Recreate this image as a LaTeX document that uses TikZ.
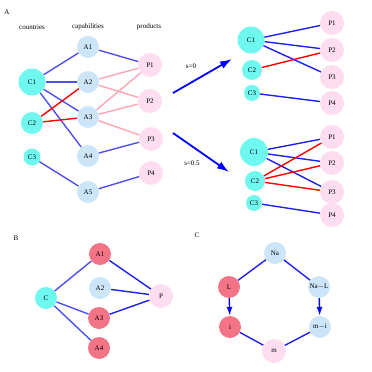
\documentclass[tikz,border=0pt]{standalone}
\usepackage{fontspec}
\setmainfont{Liberation Serif}
\usetikzlibrary{arrows.meta}
\definecolor{ctrycol}{HTML}{6FF8F0}
\definecolor{capcol}{HTML}{CCE5F8}
\definecolor{prodcol}{HTML}{FDDDEF}
\definecolor{hotcol}{HTML}{F37387}
\definecolor{linkblue}{HTML}{5050EE}
\definecolor{deepblue}{HTML}{2020EE}
\definecolor{linkpink}{HTML}{FFA5B5}

\begin{document}
\begin{tikzpicture}[x=1pt,y=-1pt,
  every node/.style={align=center,font=\fontsize{7}{8}\selectfont},
  ball/.style={circle,inner sep=0pt,minimum size=#1},
  ctry/.style={ball=#1,fill=ctrycol},
  capab/.style={ball=22pt,fill=capcol},
  prodball/.style={ball=24pt,fill=prodcol},
  hotball/.style={ball=22pt,fill=hotcol},
  blu/.style={line width=1.4pt,color=linkblue},
  dblu/.style={line width=1.4pt,color=deepblue},
  rd/.style={line width=1.4pt,color=red},
  pk/.style={line width=1.4pt,color=linkpink},
  arrow/.style={-{Latex[length=12pt,width=8pt]},line width=1.8pt,color=blue}]
  \useasboundingbox (0,0) rectangle (372,372);
  % panel A, left network
  \node (labA) at (7,12) {A};
  \node (hdc) at (32,27) {countries};
  \node (hda) at (88,27) {capabilities};
  \node (hdp) at (149,27) {products};
  \node[ctry=27pt] (c1) at (32,82) {C1};
  \node[ctry=22pt] (c2) at (32,123) {C2};
  \node[ctry=17pt] (c3) at (32,157) {C3};
  \node[capab] (a1) at (88,47) {A1};
  \node[capab] (a2) at (88,82) {A2};
  \node[capab] (a3) at (88,117) {A3};
  \node[capab] (a4) at (88,156) {A4};
  \node[capab] (a5) at (88,192) {A5};
  \node[prodball] (p1) at (150,65) {P1};
  \node[prodball] (p2) at (150,101) {P2};
  \node[prodball] (p3) at (151,139) {P3};
  \node[prodball] (p4) at (151,173) {P4};
  \draw[blu] (c1)--(a1); \draw[blu] (c1)--(a2);
  \draw[blu] (c1)--(a3); \draw[blu] (c1)--(a4);
  \draw[rd] (c2)--(a2); \draw[rd] (c2)--(a3);
  \draw[blu] (c3)--(a5);
  \draw[blu] (a1)--(p1); \draw[pk] (a2)--(p1); \draw[pk] (a2)--(p2);
  \draw[pk] (a3)--(p1); \draw[pk] (a3)--(p2); \draw[pk] (a3)--(p3);
  \draw[blu] (a4)--(p3); \draw[blu] (a5)--(p4);
  % the two arrows
  \coordinate (up0) at (173,93); \coordinate (up1) at (232,59);
  \coordinate (dn0) at (173,133); \coordinate (dn1) at (229,172);
  \draw[arrow] (up0)--(up1);
  \draw[arrow] (dn0)--(dn1);
  \node (szero) at (191,66) {s=0};
  \node (shalf) at (192,163) {s=0.5};
  % s=0
  \node[ctry=27pt] (tc1) at (251,40) {C1};
  \node[ctry=20pt] (tc2) at (252,70) {C2};
  \node[ctry=16pt] (tc3) at (252,93) {C3};
  \node[prodball] (tp1) at (332,23) {P1};
  \node[prodball] (tp2) at (332,50) {P2};
  \node[prodball] (tp3) at (332,77) {P3};
  \node[prodball] (tp4) at (332,103) {P4};
  \draw[dblu] (tc1)--(tp1); \draw[dblu] (tc1)--(tp2);
  \draw[dblu] (tc1)--(tp3); \draw[rd] (tc2)--(tp2);
  \draw[dblu] (tc3)--(tp4);
  % s=0.5
  \node[ctry=28pt] (bc1) at (254,152) {C1};
  \node[ctry=20pt] (bc2) at (255,181) {C2};
  \node[ctry=16pt] (bc3) at (254,203) {C3};
  \node[prodball] (bp1) at (332,137) {P1};
  \node[prodball] (bp2) at (332,163) {P2};
  \node[prodball] (bp3) at (332,192) {P3};
  \node[prodball] (bp4) at (332,215) {P4};
  \draw[dblu] (bc1)--(bp1); \draw[dblu] (bc1)--(bp2);
  \draw[dblu] (bc1)--(bp3);
  \draw[rd] (bc2)--(bp1); \draw[rd] (bc2)--(bp2); \draw[rd] (bc2)--(bp3);
  \draw[dblu] (bc3)--(bp4);
  % panel B
  \node (labB) at (16,238) {B};
  \node[ctry=22pt] (bc) at (46,298) {C};
  \node[hotball] (ba1) at (100,254) {A1};
  \node[capab] (ba2) at (100,288) {A2};
  \node[hotball] (ba3) at (99,318) {A3};
  \node[hotball] (ba4) at (99,348) {A4};
  \node[prodball] (bp) at (161,296) {P};
  \draw[blu] (bc)--(ba1); \draw[blu] (bc)--(ba3); \draw[blu] (bc)--(ba4);
  \draw[dblu] (ba1)--(bp); \draw[dblu] (ba2)--(bp); \draw[dblu] (ba3)--(bp);
  % panel C
  \node (labC) at (197,235) {C};
  \node[capab] (na) at (275,253) {Na};
  \node[hotball] (ll) at (229,287) {L};
  \node[capab] (nal) at (319,287) {Na$-$L};
  \node[hotball] (ii) at (230,327) {i};
  \node[capab] (mi) at (320,327) {m$-$i};
  \node[prodball] (mm) at (274,351) {m};
  \draw[dblu] (na)--(ll); \draw[dblu] (na)--(nal);
  \draw[arrow,line width=1.4pt,-{Latex[length=9pt,width=6pt]}] (ll)--(ii);
  \draw[arrow,line width=1.4pt,-{Latex[length=9pt,width=6pt]}] (nal)--(mi);
  \draw[dblu] (ii)--(mm); \draw[dblu] (mi)--(mm);
\end{tikzpicture}
\end{document}
